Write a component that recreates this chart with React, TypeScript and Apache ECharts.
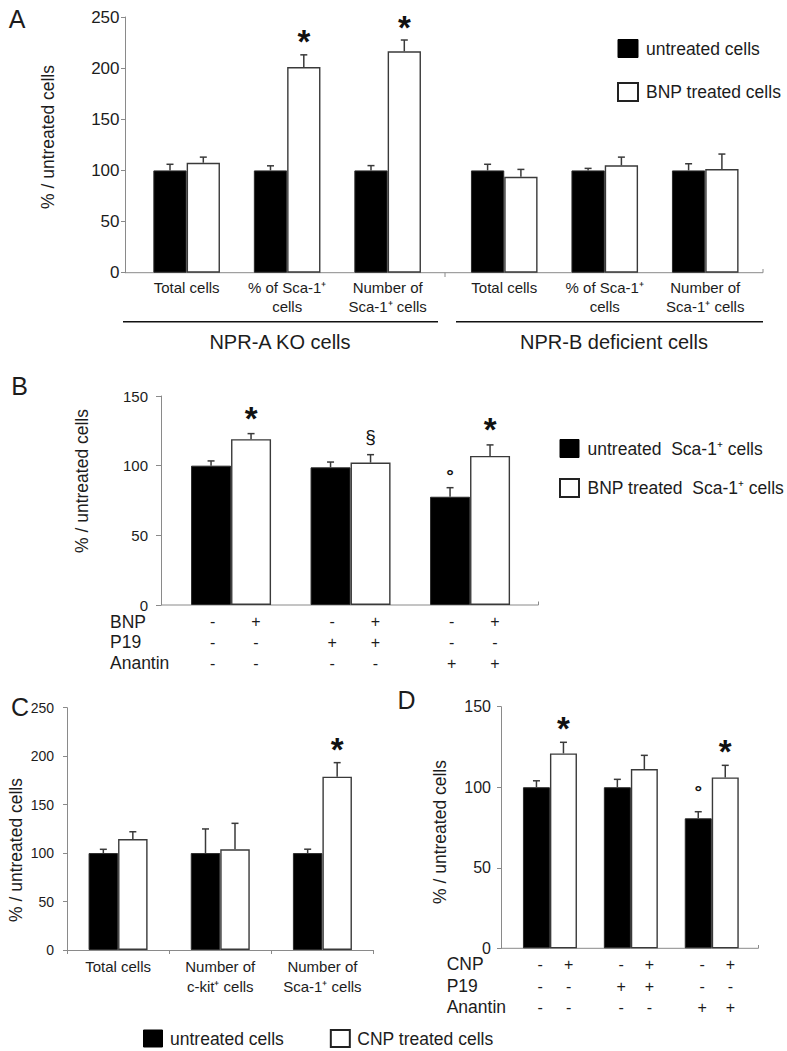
import React, { useEffect, useRef } from 'react';
import * as echarts from 'echarts';

const FONT = '"Liberation Sans", Arial, Helvetica, sans-serif';
const INK = '#1c1c1c';
const AXIS = '#8a8a8a';
const ERR = '#3a3a3a';

// ---------- Panel A ----------
const aCategories = ['Total cells', '% of Sca-1⁺\ncells', 'Number of\nSca-1⁺ cells', 'Total cells', '% of Sca-1⁺\ncells', 'Number of\nSca-1⁺ cells'];
const aGroupLabels = ['NPR-A KO cells', 'NPR-B deficient cells'];
const aSeriesNames = ['untreated cells', 'BNP treated cells'];
const aYMax = 250;
const aYStep = 50;
const aUntreated = [100, 100, 100, 100, 100, 100];
const aUntreatedSem = [6, 4.5, 4.7, 6, 2, 6.5];
const aTreated = [107.5, 201, 216.5, 93.8, 105, 101.4];
const aTreatedSem = [5.5, 12, 11, 7.2, 8, 14.6];
const aUntreatedMarks = ['', '', '', '', '', ''];
const aTreatedMarks = ['', '*', '*', '', '', ''];

// ---------- Panel B ----------
const bConditions = ['BNP', 'BNP + P19', 'BNP + Anantin'];
const bSeriesNames = ['untreated  Sca-1⁺ cells', 'BNP treated  Sca-1⁺ cells'];
const bYMax = 150;
const bYStep = 50;
const bUntreated = [100, 98.8, 77.7];
const bUntreatedSem = [3.4, 3.8, 6.5];
const bTreated = [119, 102.2, 107];
const bTreatedSem = [4, 5.7, 7.9];
const bUntreatedMarks = ['', '', '°'];
const bTreatedMarks = ['*', '§', '*'];
const bTableRows = ['BNP', 'P19', 'Anantin'];
const bBNP = ['-', '+', '-', '+', '-', '+'];
const bP19 = ['-', '-', '+', '+', '-', '-'];
const bAnantin = ['-', '-', '-', '-', '+', '+'];

// ---------- Panel C ----------
const cCategories = ['Total cells', 'Number of\nc-kit⁺ cells', 'Number of\nSca-1⁺ cells'];
const cdSeriesNames = ['untreated cells', 'CNP treated cells'];
const cYMax = 250;
const cYStep = 50;
const cUntreated = [100, 100, 100];
const cUntreatedSem = [3.9, 24.9, 4];
const cTreated = [114.5, 103.9, 178.8];
const cTreatedSem = [7.5, 26.8, 14.5];
const cUntreatedMarks = ['', '', ''];
const cTreatedMarks = ['', '', '*'];

// ---------- Panel D ----------
const dConditions = ['CNP', 'CNP + P19', 'CNP + Anantin'];
const dYMax = 150;
const dYStep = 50;
const dUntreated = [100, 100, 80.7];
const dUntreatedSem = [4, 4.9, 4.1];
const dTreated = [121, 111.3, 106.1];
const dTreatedSem = [6.9, 8.5, 7.5];
const dUntreatedMarks = ['', '', '°'];
const dTreatedMarks = ['*', '', '*'];
const dTableRows = ['CNP', 'P19', 'Anantin'];
const dCNP = ['-', '+', '-', '+', '-', '+'];
const dP19 = ['-', '-', '+', '+', '-', '-'];
const dAnantin = ['-', '-', '-', '-', '+', '+'];

const txt = (extra: any) => ({ fontFamily: FONT, fill: INK, ...extra });

function barSeries(name: string, data: number[], axis: number, width: number, treated: boolean) {
  return {
    type: 'bar',
    name,
    xAxisIndex: axis,
    yAxisIndex: axis,
    data,
    barWidth: width,
    barGap: '0%',
    z: 2,
    itemStyle: treated
      ? { color: '#ffffff', borderColor: '#3a3a3a', borderWidth: 1.4 }
      : { color: '#000000', borderColor: '#2a2a2a', borderWidth: 1 },
  };
}

const markFont: Record<string, any> = {
  '*': { fontSize: 33, fontWeight: 'bold' },
  '§': { fontSize: 19, fontWeight: 'normal' },
  '°': { fontSize: 19, fontWeight: 'bold' },
};

function errSeries(values: number[], sems: number[], marks: string[], axis: number, side: number, width: number, markDy: Record<string, number>) {
  return {
    type: 'custom',
    xAxisIndex: axis,
    yAxisIndex: axis,
    z: 4,
    silent: true,
    clip: false,
    encode: { x: 0, y: [1, 2] },
    data: values.map((v, i) => [i, v, v + sems[i]]),
    renderItem: (params: any, api: any) => {
      const i = params.dataIndex;
      const base = api.coord([i, api.value(1)]);
      const top = api.coord([i, api.value(2)]);
      const x = base[0] + (side * width) / 2;
      const ls = { stroke: ERR, lineWidth: 1.5 };
      const children: any[] = [
        { type: 'line', shape: { x1: x, y1: base[1], x2: x, y2: top[1] }, style: ls },
        { type: 'line', shape: { x1: x - 3.5, y1: top[1], x2: x + 3.5, y2: top[1] }, style: ls },
      ];
      const m = marks[i];
      if (m) {
        children.push({
          type: 'text',
          x,
          y: top[1] + (markDy[m] ?? -14),
          style: txt({ text: m, ...markFont[m], align: 'center', verticalAlign: 'middle', textAlign: 'center', textVerticalAlign: 'middle', fill: '#111' }),
        });
      }
      return { type: 'group', children };
    },
  };
}

function tableSeries(axis: number, rows: string[][], dy: number[], dxU: number, dxT: number) {
  const n = rows[0].length / 2;
  const cats: number[][] = [];
  for (let i = 0; i < n; i++) cats.push([i, 0]);
  return {
    type: 'custom',
    xAxisIndex: axis,
    yAxisIndex: axis,
    z: 5,
    silent: true,
    clip: false,
    encode: { x: 0, y: 1 },
    data: cats,
    renderItem: (params: any, api: any) => {
      const i = params.dataIndex;
      const c = api.coord([i, 0]);
      const children: any[] = [];
      rows.forEach((row, r) => {
        [row[2 * i], row[2 * i + 1]].forEach((sym, s) => {
          children.push({
            type: 'text',
            x: c[0] + (s ? dxT : dxU),
            y: c[1] + dy[r],
            style: txt({ text: sym, fontSize: 16, align: 'center', verticalAlign: 'middle', textAlign: 'center', textVerticalAlign: 'middle' }),
          });
        });
      });
      return { type: 'group', children };
    },
  };
}

function yAxisCfg(grid: number, max: number, step: number, offset: number, fontSize: number, margin: number, tickLen: number) {
  return {
    gridIndex: grid,
    type: 'value',
    min: 0,
    max,
    interval: step,
    offset,
    axisLine: { show: true, lineStyle: { color: AXIS, width: 1 } },
    axisTick: { show: true, length: tickLen, lineStyle: { color: AXIS } },
    axisLabel: { fontSize, margin, color: INK, fontFamily: FONT },
    splitLine: { show: false },
  };
}

function hiddenX(grid: number, data: string[]) {
  return {
    gridIndex: grid,
    type: 'category',
    data,
    axisLine: { show: false },
    axisTick: { show: false },
    axisLabel: { show: false },
  };
}

function buildOption() {
  const aLabel = { fontSize: 15, lineHeight: 19, margin: 5, color: INK, fontFamily: FONT, interval: 0 };
  const legendText = { fontSize: 17.5, fontFamily: FONT, color: INK };
  const blackIcon = { color: '#000', borderColor: '#000', borderWidth: 1 };
  const whiteIcon = { color: '#fff', borderColor: '#222', borderWidth: 2 };

  const lineStyle = { stroke: AXIS, lineWidth: 1 };
  const graphic: any[] = [
    // panel letters
    { type: 'text', x: 17, y: 18.5, style: txt({ text: 'A', fontSize: 25, align: 'center', verticalAlign: 'middle' }) },
    { type: 'text', x: 19.7, y: 386, style: txt({ text: 'B', fontSize: 25, align: 'center', verticalAlign: 'middle' }) },
    { type: 'text', x: 20, y: 707, style: txt({ text: 'C', fontSize: 25, align: 'center', verticalAlign: 'middle' }) },
    { type: 'text', x: 406.5, y: 700, style: txt({ text: 'D', fontSize: 25, align: 'center', verticalAlign: 'middle' }) },
    // y titles
    { type: 'text', x: 48, y: 137, rotation: Math.PI / 2, style: txt({ text: '% / untreated cells', fontSize: 17.5, align: 'center', verticalAlign: 'middle' }) },
    { type: 'text', x: 82, y: 481, rotation: Math.PI / 2, style: txt({ text: '% / untreated cells', fontSize: 17.5, align: 'center', verticalAlign: 'middle' }) },
    { type: 'text', x: 16, y: 850, rotation: Math.PI / 2, style: txt({ text: '% / untreated cells', fontSize: 17.5, align: 'center', verticalAlign: 'middle' }) },
    { type: 'text', x: 440, y: 832, rotation: Math.PI / 2, style: txt({ text: '% / untreated cells', fontSize: 17.5, align: 'center', verticalAlign: 'middle' }) },
    // x axis lines (A, B, D)
    { type: 'line', shape: { x1: 125, y1: 272.7, x2: 763, y2: 272.7 }, style: lineStyle },
    { type: 'line', shape: { x1: 445, y1: 272.7, x2: 445, y2: 277 }, style: lineStyle },
    { type: 'line', shape: { x1: 763, y1: 272.7, x2: 763, y2: 269 }, style: lineStyle },
    { type: 'line', shape: { x1: 161, y1: 605, x2: 538.5, y2: 605 }, style: lineStyle },
    { type: 'line', shape: { x1: 538.5, y1: 605, x2: 538.5, y2: 601.5 }, style: lineStyle },
    { type: 'line', shape: { x1: 501, y1: 948.3, x2: 758.5, y2: 948.3 }, style: lineStyle },
    { type: 'line', shape: { x1: 758.5, y1: 948.3, x2: 758.5, y2: 945 }, style: lineStyle },
    // group brackets in A
    { type: 'line', shape: { x1: 123, y1: 321.7, x2: 438, y2: 321.7 }, style: { stroke: '#111', lineWidth: 1.6 } },
    { type: 'line', shape: { x1: 456, y1: 321.7, x2: 763, y2: 321.7 }, style: { stroke: '#111', lineWidth: 1.6 } },
    { type: 'text', x: 280, y: 341.5, style: txt({ text: aGroupLabels[0], fontSize: 20, align: 'center', verticalAlign: 'middle' }) },
    { type: 'text', x: 614, y: 341.5, style: txt({ text: aGroupLabels[1], fontSize: 20, align: 'center', verticalAlign: 'middle' }) },
  ];
  const bRowY = [621.7, 642.3, 663.3];
  bTableRows.forEach((t, r) => graphic.push({ type: 'text', x: 110, y: bRowY[r], style: txt({ text: t, fontSize: 17.5, align: 'left', verticalAlign: 'middle' }) }));
  const dRowY = [964.3, 986, 1007.3];
  dTableRows.forEach((t, r) => graphic.push({ type: 'text', x: 446.7, y: dRowY[r], style: txt({ text: t, fontSize: 17.5, align: 'left', verticalAlign: 'middle' }) }));

  const aMarkDy = { '*': -13 };
  const bMarkDy = { '*': -15, '§': -18, '°': -12 };
  const cMarkDy = { '*': -13 };
  const dMarkDy = { '*': -14, '°': -20 };

  return {
    animation: false,
    backgroundColor: '#ffffff',
    textStyle: { fontFamily: FONT },
    grid: [
      { left: 136.4, top: 17, width: 301.5, height: 255.7, outerBoundsMode: 'none' },
      { left: 454, top: 17, width: 301.5, height: 255.7, outerBoundsMode: 'none' },
      { left: 171.3, top: 396, width: 358.5, height: 209, outerBoundsMode: 'none' },
      { left: 67, top: 707.7, width: 306.5, height: 242.3, outerBoundsMode: 'none' },
      { left: 509.5, top: 706.7, width: 242.7, height: 241.6, outerBoundsMode: 'none' },
    ],
    xAxis: [
      { gridIndex: 0, type: 'category', data: aCategories.slice(0, 3), axisLine: { show: false }, axisTick: { show: false }, axisLabel: aLabel },
      { gridIndex: 1, type: 'category', data: aCategories.slice(3, 6), axisLine: { show: false }, axisTick: { show: false }, axisLabel: aLabel },
      hiddenX(2, bConditions),
      {
        gridIndex: 3,
        type: 'category',
        data: cCategories,
        axisLine: { show: true, lineStyle: { color: AXIS, width: 1 } },
        axisTick: { show: true, length: 4, lineStyle: { color: AXIS } },
        axisLabel: { fontSize: 15, lineHeight: 20, margin: 6.5, color: INK, fontFamily: FONT, interval: 0 },
      },
      hiddenX(4, dConditions),
    ],
    yAxis: [
      yAxisCfg(0, aYMax, aYStep, 11.4, 17, 5.5, 4),
      { gridIndex: 1, type: 'value', min: 0, max: aYMax, interval: aYStep, show: false, splitLine: { show: false } },
      yAxisCfg(2, bYMax, bYStep, 10.3, 15, 13, 5),
      yAxisCfg(3, cYMax, cYStep, 0, 14, 13, 4),
      yAxisCfg(4, dYMax, dYStep, 8.5, 16, 10, 4),
    ],
    legend: [
      {
        orient: 'vertical', left: 612, top: 34, itemWidth: 20, itemHeight: 18, itemGap: 24, icon: 'rect', selectedMode: false,
        textStyle: { ...legendText, padding: [0, 0, 0, 3] },
        data: [{ name: aSeriesNames[0], itemStyle: blackIcon }, { name: aSeriesNames[1], itemStyle: whiteIcon }],
      },
      {
        orient: 'vertical', left: 554, top: 434, itemWidth: 19, itemHeight: 18, itemGap: 20, icon: 'rect', selectedMode: false,
        textStyle: { ...legendText, padding: [0, 0, 0, 3.5] },
        data: [{ name: bSeriesNames[0], itemStyle: blackIcon }, { name: bSeriesNames[1], itemStyle: whiteIcon }],
      },
      {
        orient: 'horizontal', left: 138, top: 1024, itemWidth: 19, itemHeight: 17, itemGap: 46, icon: 'rect', selectedMode: false,
        textStyle: { ...legendText, padding: [0, 0, 0, 2.5] },
        data: [{ name: cdSeriesNames[0], itemStyle: blackIcon }, { name: cdSeriesNames[1], itemStyle: whiteIcon }],
      },
    ],
    graphic,
    series: [
      // A left
      barSeries(aSeriesNames[0], aUntreated.slice(0, 3), 0, 33.3, false),
      barSeries(aSeriesNames[1], aTreated.slice(0, 3), 0, 33.3, true),
      errSeries(aUntreated.slice(0, 3), aUntreatedSem.slice(0, 3), aUntreatedMarks.slice(0, 3), 0, -1, 33.3, aMarkDy),
      errSeries(aTreated.slice(0, 3), aTreatedSem.slice(0, 3), aTreatedMarks.slice(0, 3), 0, 1, 33.3, aMarkDy),
      // A right
      barSeries(aSeriesNames[0], aUntreated.slice(3, 6), 1, 33.3, false),
      barSeries(aSeriesNames[1], aTreated.slice(3, 6), 1, 33.3, true),
      errSeries(aUntreated.slice(3, 6), aUntreatedSem.slice(3, 6), aUntreatedMarks.slice(3, 6), 1, -1, 33.3, aMarkDy),
      errSeries(aTreated.slice(3, 6), aTreatedSem.slice(3, 6), aTreatedMarks.slice(3, 6), 1, 1, 33.3, aMarkDy),
      // B
      barSeries(bSeriesNames[0], bUntreated, 2, 40, false),
      barSeries(bSeriesNames[1], bTreated, 2, 40, true),
      errSeries(bUntreated, bUntreatedSem, bUntreatedMarks, 2, -1, 40, bMarkDy),
      errSeries(bTreated, bTreatedSem, bTreatedMarks, 2, 1, 40, bMarkDy),
      tableSeries(2, [bBNP, bP19, bAnantin], [16.7, 37.3, 58.3], -18.5, 24.8),
      // C
      barSeries(cdSeriesNames[0], cUntreated, 3, 29.5, false),
      barSeries(cdSeriesNames[1], cTreated, 3, 29.5, true),
      errSeries(cUntreated, cUntreatedSem, cUntreatedMarks, 3, -1, 29.5, cMarkDy),
      errSeries(cTreated, cTreatedSem, cTreatedMarks, 3, 1, 29.5, cMarkDy),
      // D
      barSeries(cdSeriesNames[0], dUntreated, 4, 27, false),
      barSeries(cdSeriesNames[1], dTreated, 4, 27, true),
      errSeries(dUntreated, dUntreatedSem, dUntreatedMarks, 4, -1, 27, dMarkDy),
      errSeries(dTreated, dTreatedSem, dTreatedMarks, 4, 1, 27, dMarkDy),
      tableSeries(4, [dCNP, dP19, dAnantin], [16, 37.7, 59], -9.7, 18.6),
    ],
  };
}

export default function App() {
  const ref = useRef<HTMLDivElement>(null);
  useEffect(() => {
    if (!ref.current) return;
    const chart = echarts.init(ref.current, null, { renderer: 'svg' });
    chart.setOption(buildOption() as any);
    return () => chart.dispose();
  }, []);
  return (
    <div
      ref={ref}
      style={{ position: 'absolute', left: 0, top: 0, width: 787, height: 1051, background: '#ffffff' }}
    />
  );
}
